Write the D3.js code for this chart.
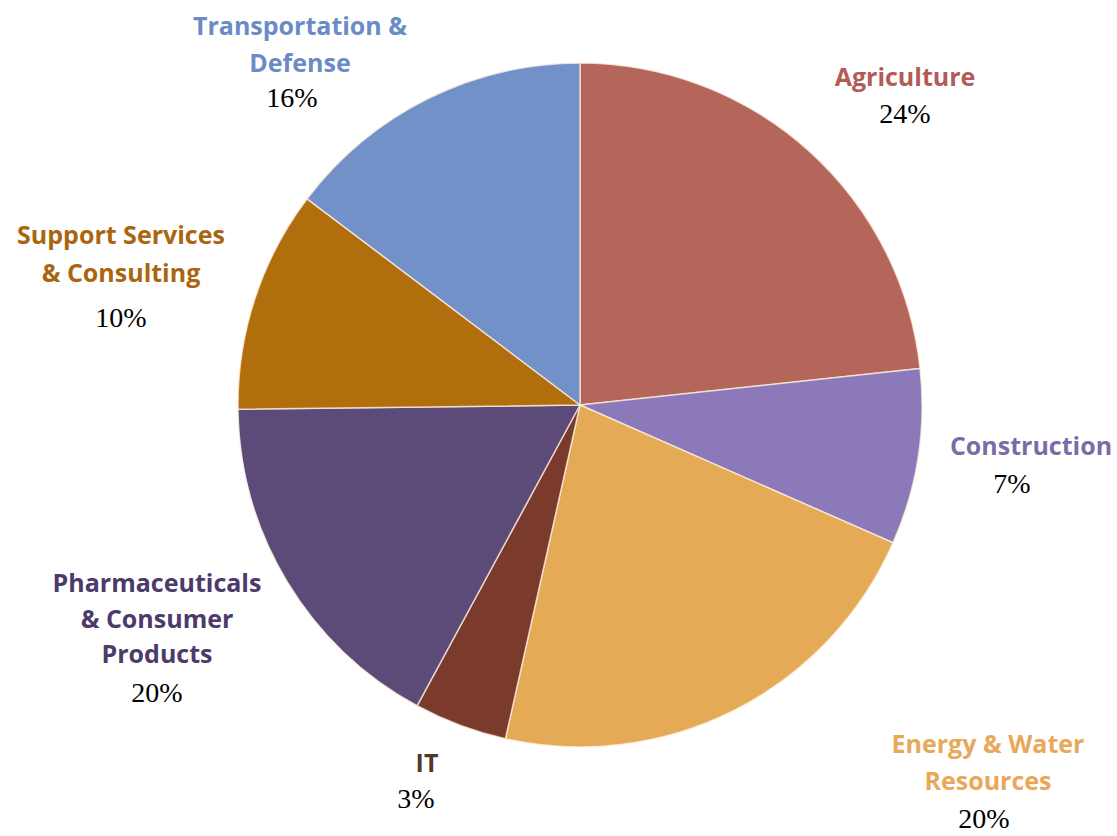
<!DOCTYPE html>
<html>
<head>
<meta charset="utf-8">
<script src="https://cdn.jsdelivr.net/npm/d3@7"></script>
<style>
  html, body { margin: 0; padding: 0; background: #fff; }
  .name { font-family: "Open Sans", sans-serif; font-weight: 700; font-size: 25px; }
  .pct { font-family: "Liberation Serif", "Times New Roman", serif; font-size: 28px; fill: #000; }
</style>
</head>
<body>
<svg class="chart"></svg>
<script>
// sectors, clockwise from 12 o'clock
var categories = ["Agriculture", "Construction", "Energy & Water Resources", "IT",
                  "Pharmaceuticals & Consumer Products", "Support Services & Consulting",
                  "Transportation & Defense"];
// slice sizes as drawn in the picture (share of the circle)
var values = [23.3, 8.3, 21.9, 4.4, 16.9, 10.5, 14.7];
// percentages printed under the names
var pctLabels = ["24%", "7%", "20%", "3%", "20%", "10%", "16%"];
// how the names are broken on lines
var nameLines = [["Agriculture"], ["Construction"], ["Energy & Water", "Resources"], ["IT"],
                 ["Pharmaceuticals", "& Consumer", "Products"], ["Support Services", "& Consulting"],
                 ["Transportation &", "Defense"]];

var sliceColors = ["#b4665a", "#8b79b9", "#e4aa55", "#7a3b2d", "#5c4a78", "#b06e0c", "#7291c9"];
var nameColors = ["#b25b57", "#7b6ba8", "#e8a85a", "#4e3a2c", "#4c3b6a", "#a9660f", "#6a8bc5"];

// where each label block sits: x centre, baselines of the name lines, pct position
var labelLayout = [
  {x: 905, lines: [86], px: 905, py: 123},
  {x: 1031, lines: [455], px: 1012, py: 493},
  {x: 988, lines: [753, 790], px: 984, py: 828},
  {x: 427, lines: [772], px: 416, py: 808},
  {x: 157, lines: [592, 628, 663], px: 157, py: 702},
  {x: 121, lines: [244, 282], px: 121, py: 327},
  {x: 300, lines: [35, 72], px: 292, py: 107}
];

var width = 1117, height = 836;
var cx = 580, cy = 405, radius = 342;

var svg = d3.select(".chart")
  .attr("width", width)
  .attr("height", height);

var data = categories.map(function(c, i){
  return {name: c, value: values[i], pct: pctLabels[i], lines: nameLines[i], i: i};
});

var pie = d3.pie()
  .sort(null)
  .value(function(d){ return d.value; });

var arc = d3.arc()
  .innerRadius(0)
  .outerRadius(radius);

var g = svg.append("g")
  .attr("transform", "translate(" + cx + "," + cy + ")");

g.selectAll(".slice")
  .data(pie(data))
  .enter()
  .append("path")
  .attr("class", "slice")
  .attr("d", arc)
  .attr("fill", function(d){ return sliceColors[d.data.i]; })
  .attr("stroke", "rgba(255,240,225,0.75)")
  .attr("stroke-width", 1.5)
  .attr("stroke-linejoin", "round");

// labels
var lbl = svg.selectAll(".label")
  .data(data)
  .enter()
  .append("g")
  .attr("class", "label");

lbl.each(function(d){
  var sel = d3.select(this);
  var lay = labelLayout[d.i];
  d.lines.forEach(function(t, k){
    sel.append("text")
      .attr("class", "name")
      .attr("x", lay.x)
      .attr("y", lay.lines[k])
      .attr("text-anchor", "middle")
      .attr("fill", nameColors[d.i])
      .text(t);
  });
  sel.append("text")
    .attr("class", "pct")
    .attr("x", lay.px)
    .attr("y", lay.py)
    .attr("text-anchor", "middle")
    .text(d.pct);
});
</script>
</body>
</html>
